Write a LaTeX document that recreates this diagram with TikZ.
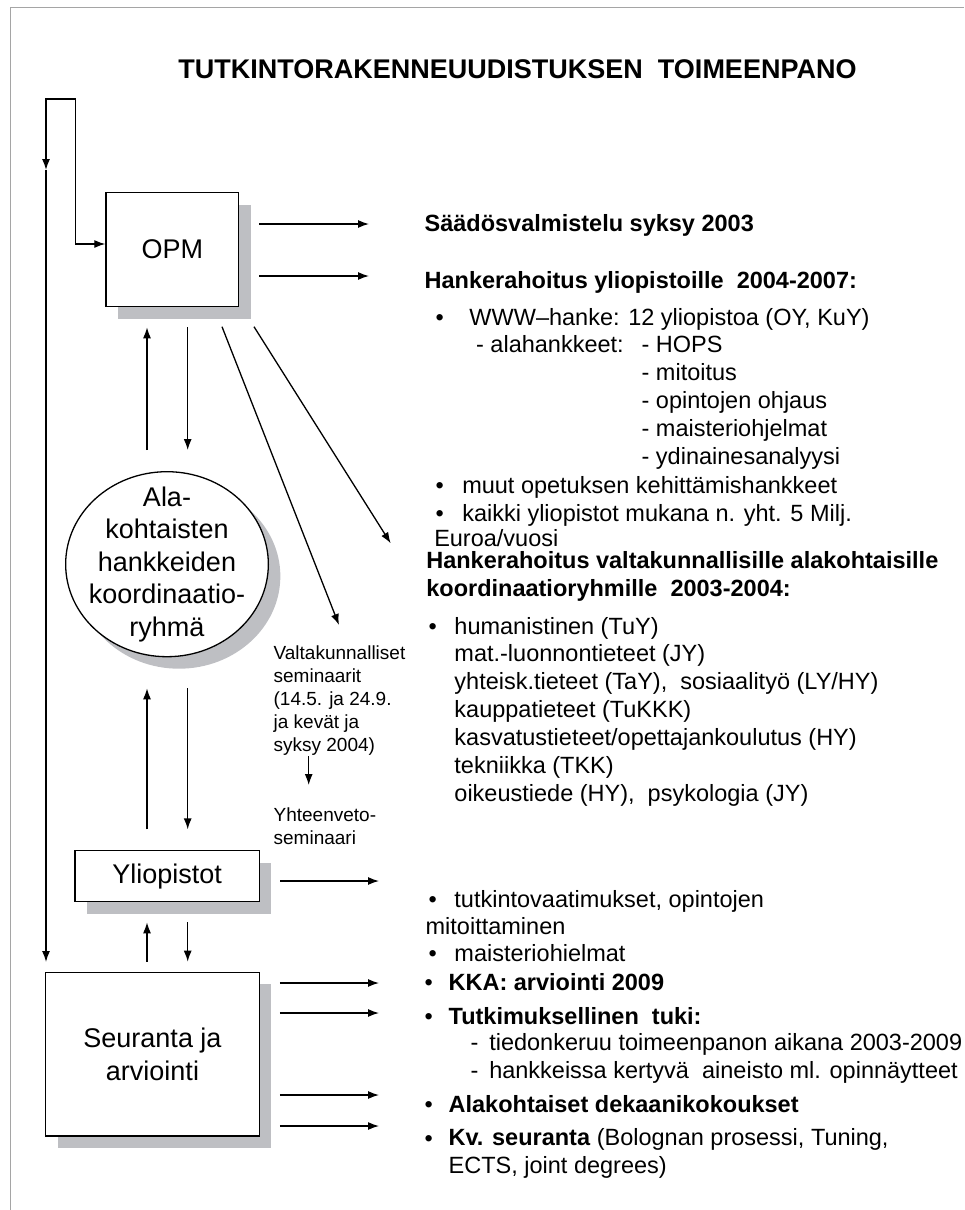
\documentclass[tikz,border=0pt]{standalone}
\usepackage{fontspec}
\setmainfont{Liberation Sans}
\usetikzlibrary{arrows.meta}
\usetikzlibrary{shapes.geometric}
\usetikzlibrary{shadows}

\definecolor{shadowgray}{RGB}{190,191,195}
\definecolor{framegray}{RGB}{165,165,165}

\newcommand{\boxfont}{\fontsize{27}{32.5}\selectfont}
\newcommand{\listfont}{\fontsize{23.5}{27.9}\selectfont}
\newcommand{\notefont}{\fontsize{19}{23.1}\selectfont}

\begin{document}
\begin{tikzpicture}[x=1pt,y=-1pt,>/.tip={Latex[length=11pt,width=8pt]},line width=1.3pt,
	shadowbox/.style={draw,fill=white,inner sep=0pt,font=\boxfont,
		general shadow={fill=shadowgray,shadow xshift=12pt,shadow yshift=-12pt}},
	txt/.style={anchor=base west,inner sep=0pt,align=left,font=\listfont},
	note/.style={anchor=base west,inner sep=0pt,align=left,font=\notefont}]
	\useasboundingbox (0,0) rectangle (964,1210);
	\draw[framegray,line width=1pt] (10,1210) -- (10,7) -- (964,7);

	\node [anchor=base,inner sep=0pt,font=\fontsize{27}{32}\selectfont\bfseries] (title) at (517.5,78.3) {TUTKINTORAKENNEUUDISTUKSEN\ \ TOIMEENPANO};

	% boxes on the left
	\draw (172.3,249.7) node (opm) [shadowbox,minimum width=132.7pt,minimum height=114pt] {OPM};
	\draw (167,564.2) node (ala) [shadowbox,ellipse,minimum width=202.7pt,minimum height=185pt] {};
	\node [align=center,font=\boxfont] (alatxt) at (ala.center) {Ala-\\kohtaisten\\hankkeiden\\koordinaatio-\\ryhmä};
	\draw (167.2,876.2) node (ylio) [shadowbox,minimum width=184.3pt,minimum height=51pt] {Yliopistot};
	\draw (152.5,1054.2) node (seur) [shadowbox,align=center,minimum width=213.6pt,minimum height=163.7pt] {Seuranta ja\\arviointi};

	% feedback loop
	\coordinate (loopa) at (75.6,99);
	\coordinate (loopb) at (46,99);
	\coordinate (loopc) at (46,170);
	\coordinate (loopd) at (46,962);
	\draw[<->] (loopc) -- (loopb) -- (loopa) |- ([yshift=5.7pt]opm.west);
	\draw[->] (loopc) -- (loopd);

	% up and down between the boxes
	\draw[->,shorten <=21pt,shorten >=20pt] ([xshift=-20pt]ala.north) -- ([xshift=-20pt]ala.north |- opm.south);
	\draw[->,shorten <=20pt,shorten >=21pt] ([xshift=20.7pt]ala.north |- opm.south) -- ([xshift=20.7pt]ala.north);
	\draw[->,shorten <=20.7pt,shorten >=31pt] ([xshift=-20pt]ala.south |- ylio.north) -- ([xshift=-20pt]ala.south);
	\draw[->,shorten <=31pt,shorten >=20.7pt] ([xshift=20.7pt]ala.south) -- ([xshift=20.7pt]ala.south |- ylio.north);
	\draw[->,shorten <=10pt,shorten >=20pt] ([xshift=-20pt]ala.south |- seur.north) -- ([xshift=-20pt]ala.south |- ylio.south);
	\draw[->,shorten <=20pt,shorten >=10pt] ([xshift=20.7pt]ala.south |- ylio.south) -- ([xshift=20.7pt]ala.south |- seur.north);

	% diagonal arrows from OPM
	\coordinate (d1) at (222,326.7);
	\coordinate (d1e) at (339,625);
	\coordinate (d2) at (254,326.7);
	\coordinate (d2e) at (390.7,543.3);
	\draw[->] (d1) -- (d1e);
	\draw[->] (d2) -- (d2e);

	% arrows to the right
	\coordinate (r1) at (369,224);
	\coordinate (r2) at (369,276);
	\coordinate (r3) at (379,881);
	\coordinate (s1) at (379,983);
	\coordinate (s2) at (379,1013);
	\coordinate (s3) at (379,1095);
	\coordinate (s4) at (379,1126);
	\draw[->,shorten <=20pt] (opm.east |- r1) -- (r1);
	\draw[->,shorten <=20pt] (opm.east |- r2) -- (r2);
	\draw[->,shorten <=20pt] (ylio.east |- r3) -- (r3);
	\draw[->,shorten <=20pt] (seur.east |- s1) -- (s1);
	\draw[->,shorten <=20pt] (seur.east |- s2) -- (s2);
	\draw[->,shorten <=20pt] (seur.east |- s3) -- (s3);
	\draw[->,shorten <=20pt] (seur.east |- s4) -- (s4);

	% seminars (base = last line)
	\node [note] (valt) at (273,751.7) {Valtakunnalliset\\seminaarit\\(14.5. ja 24.9.\\ja kevät ja\\syksy 2004)};
	\node [note] (yht) at (273,844.8) {Yhteenveto-\\seminaari};
	\coordinate (v1) at (308.7,756);
	\coordinate (v2) at (308.7,785);
	\draw[->] (v1) -- (v2);

	% OPM texts
	\node [txt,font=\listfont\bfseries] (saados) at (424,231.7) {Säädösvalmistelu syksy 2003};
	\node [txt,font=\listfont\bfseries] (hankyo) at (424,288) {Hankerahoitus yliopistoille\ \ 2004-2007:};
	\node [txt] (b1) at (435,325) {•};
	\node [txt] (www) at (468.8,325) {WWW–hanke: 12 yliopistoa (OY, KuY)};
	\node [txt] (alah) at (475.5,352.7) {- alahankkeet:};
	\node [txt] (osat) at (641,464.3) {- HOPS\\- mitoitus\\- opintojen ohjaus\\- maisteriohjelmat\\- ydinainesanalyysi};
	\node [txt] (b2) at (435,521.2) {•\\•};
	\node [txt] (muut) at (461.6,521.2) {muut opetuksen kehittämishankkeet\\kaikki yliopistot mukana n. yht. 5 Milj.};
	\node [txt] (euroa) at (433.6,546) {Euroa/vuosi};
	\node [txt,font=\listfont\bfseries] (hankval) at (425.7,596.2) {Hankerahoitus valtakunnallisille alakohtaisille\\koordinaatioryhmille\ \ 2003-2004:};
	\node [txt] (b3) at (428,634) {•};
	\node [txt] (alat) at (453.8,801.4) {humanistinen (TuY)\\mat.-luonnontieteet (JY)\\yhteisk.tieteet (TaY),\ \ sosiaalityö (LY/HY)\\kauppatieteet (TuKKK)\\kasvatustieteet/opettajankoulutus (HY)\\tekniikka (TKK)\\oikeustiede (HY),\ \ psykologia (JY)};

	% Yliopistot texts
	\node [txt] (b4) at (428,907.3) {•};
	\node [txt] (tutk) at (453.8,907.3) {tutkintovaatimukset, opintojen};
	\node [txt] (mitoit) at (425,934) {mitoittaminen};
	\node [txt] (b5) at (428,961.7) {•};
	\node [txt] (maist) at (453.8,961.7) {maisteriohielmat};

	% Seuranta texts
	\node [txt] (b6) at (424,990) {•};
	\node [txt] (b7) at (424,1024) {•};
	\node [txt] (b8) at (424,1112.3) {•};
	\node [txt] (b9) at (424,1146.7) {•};
	\node [txt,font=\listfont\bfseries] (kka) at (448,990) {KKA: arviointi 2009};
	\node [txt,font=\listfont\bfseries] (tuki) at (448,1024) {Tutkimuksellinen\ \ tuki:};
	\node [txt] (viiva) at (470,1078.6) {-\\-};
	\node [txt] (tieto) at (488.6,1078.6) {tiedonkeruu toimeenpanon aikana 2003-2009\\hankkeissa kertyvä\ \ aineisto ml. opinnäytteet};
	\node [txt,font=\listfont\bfseries] (dek) at (448,1112.3) {Alakohtaiset dekaanikokoukset};
	\node [txt] (kv) at (448,1173.3) {\textbf{Kv. seuranta} (Bolognan prosessi, Tuning,\\ECTS, joint degrees)};
\end{tikzpicture}
\end{document}
